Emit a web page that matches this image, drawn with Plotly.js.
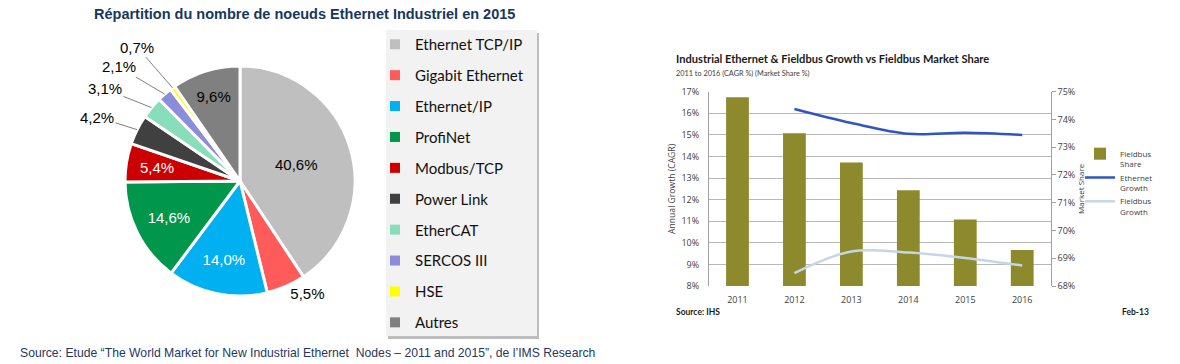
<!DOCTYPE html>
<html>
<head>
<meta charset="utf-8">
<script src="https://cdn.plot.ly/plotly-3.0.1.min.js"></script>
<style>html,body{margin:0;padding:0;background:#fff;}#chart{width:1180px;height:364px;}</style>
</head>
<body>
<div id="chart"></div>
<script>
// ---- Left chart: pie ----
const pieLabels = ['Ethernet TCP/IP','Gigabit Ethernet','Ethernet/IP','ProfiNet','Modbus/TCP','Power Link','EtherCAT','SERCOS III','HSE','Autres'];
const pieValues = [40.6, 5.5, 14.0, 14.6, 5.4, 4.2, 3.1, 2.1, 0.7, 9.6];
const pieColors = ['#BFBFBF','#FF5B5B','#00B0F0','#00964B','#CC0000','#404040','#88DDBB','#8C8CDC','#FFFF00','#808080'];
// how each slice label is shown: native inside/outside text, a callout with leader line, or an inner annotation
const pieLabelMode = ['inside','outside','inside','inside','inner','callout','callout','callout','callout','inside'];
const pieTextColors = ['#000000','#000000','#FFFFFF','#FFFFFF','#FFFFFF','#000000','#000000','#000000','#000000','#000000'];

// ---- Right chart ----
const years = ['2011','2012','2013','2014','2015','2016'];
const fieldbusShare = [74.8, 73.5, 72.45, 71.45, 70.4, 69.3];
const growthYears = ['2012','2013','2014','2015','2016'];
const ethernetGrowth = [16.2, 15.55, 15.05, 15.1, 15.0];
const fieldbusGrowth = [8.6, 9.6, 9.55, 9.3, 8.95];
const growthTicks = [8,9,10,11,12,13,14,15,16,17];
const shareTicks = [68,69,70,71,72,73,74,75];

const W = 1180, H = 364;
const px = v => v / W;
const py = v => 1 - v / H;

// pie geometry (layout)
const PIE = {cx: 240, cy: 181, r: 115};
// callout label centres (layout, pixels) for slices shown with leader lines
const calloutPos = {5: [97, 117], 6: [105, 89], 7: [119, 67], 8: [137, 47]};

const fmt = v => v.toFixed(1).replace('.', ',') + '%';
const pieText = pieValues.map(fmt);
const pieTotal = pieValues.reduce((a, b) => a + b, 0);

const traces = [];
traces.push({
  type: 'pie',
  labels: pieLabels,
  values: pieValues,
  text: pieText,
  textinfo: 'text',
  hoverinfo: 'label+percent',
  sort: false,
  direction: 'clockwise',
  rotation: 0,
  marker: {colors: pieColors, line: {color: '#FFFFFF', width: 3}},
  textposition: pieLabelMode.map(m => (m === 'inside' || m === 'outside') ? m : 'none'),
  insidetextorientation: 'horizontal',
  textfont: {family: 'Liberation Sans, Arial, sans-serif', size: 15, color: pieTextColors},
  outsidetextfont: {family: 'Liberation Sans, Arial, sans-serif', size: 15, color: '#000000'},
  domain: {x: [px(PIE.cx - PIE.r), px(PIE.cx + PIE.r)], y: [py(PIE.cy + PIE.r), py(PIE.cy - PIE.r)]},
  showlegend: false
});

// legend entries for the pie (one group each so spacing can match)
pieLabels.forEach((lab, i) => {
  traces.push({
    type: 'scatter', mode: 'markers', x: [null], y: [null],
    xaxis: 'x3', yaxis: 'y3',
    name: lab, legendgroup: 'g' + i, legend: 'legend',
    marker: {symbol: 'square', size: 10, color: pieColors[i]},
    hoverinfo: 'skip'
  });
});

traces.push({
  type: 'bar', name: 'Fieldbus<br>Share', x: years, y: fieldbusShare,
  xaxis: 'x', yaxis: 'y', marker: {color: '#8C8A2C'}, width: 0.4,
  legend: 'legend2'
});
traces.push({
  type: 'scatter', mode: 'lines', name: 'Ethernet<br>Growth', x: growthYears, y: ethernetGrowth,
  xaxis: 'x', yaxis: 'y2', line: {color: '#2F55C2', width: 2.5, shape: 'spline', smoothing: 1},
  legend: 'legend2'
});
traces.push({
  type: 'scatter', mode: 'lines', name: 'Fieldbus<br>Growth', x: growthYears, y: fieldbusGrowth,
  xaxis: 'x', yaxis: 'y2', line: {color: '#C6D6E6', width: 2.5, shape: 'spline', smoothing: 1},
  legend: 'legend2'
});

const tickFont = {family: 'Open Sans, sans-serif', size: 9, color: '#404040'};

// pie label annotations derived from the values
const pieAnnotations = [];
let cum = 0;
pieValues.forEach((v, i) => {
  const mid = (cum + v / 2) / pieTotal * 2 * Math.PI;
  cum += v;
  const sx = Math.sin(mid), cy = Math.cos(mid);
  if (pieLabelMode[i] === 'callout') {
    const ex = PIE.cx + PIE.r * sx, ey = PIE.cy - PIE.r * cy;
    const lp = calloutPos[i];
    pieAnnotations.push({
      text: pieText[i], xref: 'paper', yref: 'paper', x: px(ex), y: py(ey),
      axref: 'pixel', ayref: 'pixel', ax: lp[0] - ex, ay: lp[1] - ey,
      showarrow: true, arrowhead: 0, arrowwidth: 1, arrowcolor: '#7F7F7F', standoff: 0, startstandoff: 0,
      font: {family: 'Liberation Sans, Arial, sans-serif', size: 15, color: pieTextColors[i]}
    });
  } else if (pieLabelMode[i] === 'inner') {
    const rr = PIE.r * 0.73;
    pieAnnotations.push({
      text: pieText[i], xref: 'paper', yref: 'paper',
      x: px(PIE.cx + rr * sx), y: py(PIE.cy - rr * cy), xanchor: 'center', yanchor: 'middle', showarrow: false,
      font: {family: 'Liberation Sans, Arial, sans-serif', size: 15, color: pieTextColors[i]}
    });
  }
});

const layout = {
  width: W, height: H,
  margin: {l: 0, r: 0, t: 0, b: 0},
  paper_bgcolor: '#FFFFFF', plot_bgcolor: 'rgba(0,0,0,0)',
  barmode: 'overlay',
  xaxis: {
    domain: [px(709), px(1050.7)], anchor: 'y', type: 'category',
    categoryorder: 'array', categoryarray: years, range: [-0.5, 5.5],
    showgrid: false, zeroline: false, showline: false,
    ticks: 'outside', ticklen: 5, tickcolor: 'rgba(0,0,0,0)',
    tickfont: {family: 'Open Sans, sans-serif', size: 9, color: '#404040'}, fixedrange: true
  },
  yaxis: {
    domain: [py(286), py(91.7)], anchor: 'x', side: 'right', range: [68, 75],
    tickvals: shareTicks, ticktext: shareTicks.map(v => v + '%'),
    showgrid: false, zeroline: false,
    showline: true, linecolor: '#A0A0A0', linewidth: 1,
    ticks: 'outside', ticklen: 4, tickcolor: '#A0A0A0',
    tickfont: tickFont,
    title: {text: 'Market Share', font: {family: 'Open Sans, sans-serif', size: 8, color: '#404040'}, standoff: 4},
    fixedrange: true
  },
  yaxis2: {
    overlaying: 'y', side: 'left', anchor: 'x', range: [8, 17],
    tickvals: growthTicks, ticktext: growthTicks.map(v => v + '%'),
    showgrid: true, gridcolor: '#B8B8B8', gridwidth: 1, zeroline: false,
    showline: true, linecolor: '#A0A0A0', linewidth: 1,
    ticks: 'outside', ticklen: 7, tickcolor: 'rgba(0,0,0,0)',
    tickfont: tickFont,
    title: {text: 'Annual Growth (CAGR)', font: {family: 'Open Sans, sans-serif', size: 8.6, color: '#404040'}, standoff: 4},
    fixedrange: true
  },
  xaxis3: {domain: [0, 0.01], anchor: 'y3', visible: false},
  yaxis3: {domain: [0, 0.01], anchor: 'x3', visible: false},
  legend: {
    x: px(375), y: py(28), xanchor: 'left', yanchor: 'top',
    bgcolor: 'rgba(0,0,0,0)', borderwidth: 0,
    font: {family: 'Lato, sans-serif', size: 15, color: '#111111'},
    traceorder: 'grouped', tracegroupgap: 8.4
  },
  legend2: {
    x: px(1080), y: py(142), xanchor: 'left', yanchor: 'top',
    bgcolor: 'rgba(0,0,0,0)', borderwidth: 0, valign: 'top',
    font: {family: 'Open Sans, sans-serif', size: 8, color: '#404040'},
    traceorder: 'normal'
  },
  shapes: [
    {type: 'rect', xref: 'paper', yref: 'paper', layer: 'below',
     x0: px(388), x1: px(539), y0: py(339), y1: py(33), fillcolor: '#BDBDBD', line: {width: 0}},
    {type: 'rect', xref: 'paper', yref: 'paper', layer: 'below',
     x0: px(386), x1: px(537), y0: py(336), y1: py(30), fillcolor: '#F2F2F2', line: {width: 0}}
  ],
  annotations: [
    {text: '<b>Répartition du nombre de noeuds Ethernet Industriel en 2015</b>', xref: 'paper', yref: 'paper',
     x: px(92), y: py(14), xanchor: 'left', yanchor: 'middle', showarrow: false,
     font: {family: 'Liberation Sans, Arial, sans-serif', size: 14.5, color: '#17375E'}},
    {text: 'Source: Etude “The World Market for New Industrial Ethernet  Nodes – 2011 and 2015”, de l’IMS Research',
     xref: 'paper', yref: 'paper', x: px(18), y: py(353), xanchor: 'left', yanchor: 'middle', showarrow: false,
     font: {family: 'Liberation Sans, Arial, sans-serif', size: 12.2, color: '#1F3864'}},
    {text: '<b>Industrial Ethernet & Fieldbus Growth vs Fieldbus Market Share</b>', xref: 'paper', yref: 'paper',
     x: px(674), y: py(59), xanchor: 'left', yanchor: 'middle', showarrow: false,
     font: {family: 'Lato, sans-serif', size: 11.1, color: '#1A1A1A'}},
    {text: '2011 to 2016 (CAGR %) (Market Share %)', xref: 'paper', yref: 'paper',
     x: px(674), y: py(74), xanchor: 'left', yanchor: 'middle', showarrow: false,
     font: {family: 'Lato, sans-serif', size: 7.3, color: '#404040'}},
    {text: '<b>Source: IHS</b>', xref: 'paper', yref: 'paper',
     x: px(674), y: py(312), xanchor: 'left', yanchor: 'middle', showarrow: false,
     font: {family: 'Lato, sans-serif', size: 8.5, color: '#1A1A1A'}},
    {text: '<b>Feb-13</b>', xref: 'paper', yref: 'paper',
     x: px(1151), y: py(312), xanchor: 'right', yanchor: 'middle', showarrow: false,
     font: {family: 'Lato, sans-serif', size: 8.5, color: '#1A1A1A'}}
  ].concat(pieAnnotations)
};

Plotly.newPlot('chart', traces, layout, {staticPlot: true, displayModeBar: false});
</script>
</body>
</html>
